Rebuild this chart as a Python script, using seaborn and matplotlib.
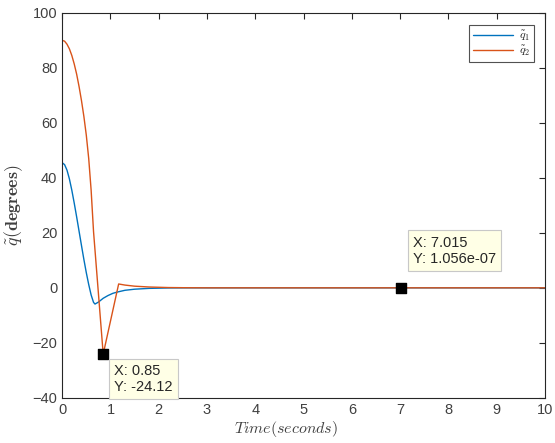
import numpy as np
import pandas as pd
import matplotlib
matplotlib.use("Agg")
import matplotlib.pyplot as plt
import seaborn as sns

# Joint tracking error samples (time in seconds, error in degrees)
t_q1 = [0.0, 0.05, 0.1, 0.15, 0.2, 0.25, 0.3, 0.35, 0.4, 0.45, 0.5, 0.55,
        0.6, 0.65, 0.68, 0.75, 0.85, 0.95, 1.05, 1.15, 1.3, 1.5, 1.8, 2.2, 2.6,
        3.0, 5.0, 7.0, 10.0]
q1 = [45.5, 44.8, 42.8, 39.6, 35.5, 30.8, 25.8, 20.6, 15.4, 10.3, 5.5, 1.2,
      -2.6, -5.3, -5.9, -5.2, -3.8, -2.8, -2.0, -1.5, -0.9, -0.5, -0.2, -0.05, -0.01,
      0.0, 0.0, 0.0, 0.0]

t_q2 = [0.0, 0.05, 0.1, 0.15, 0.2, 0.25, 0.3, 0.35, 0.4, 0.45, 0.5, 0.55,
        0.6, 0.65, 0.85, 1.17, 1.3, 1.5, 1.8, 2.2, 2.6, 3.0, 5.0, 7.015, 10.0]
q2 = [90.0, 89.7, 88.6, 86.9, 84.5, 81.4, 77.7, 73.2, 68.1, 62.3, 55.5, 47.0,
      35.5, 20.4, -24.12, 1.4, 1.0, 0.6, 0.3, 0.1, 0.03, 0.0, 0.0, 1.056e-07, 0.0]

# Data tips: (x, y) of the marked samples
tip_x = [0.85, 7.015]
tip_y = [-24.12, 1.056e-07]
tip_text = ["X: 0.85\nY: -24.12", "X: 7.015\nY: 1.056e-07"]

series_labels = [r"$\tilde{q}_1$", r"$\tilde{q}_2$"]
colors = ["#0072BD", "#D95319"]

df = pd.concat([
    pd.DataFrame({"t": t_q1, "q": q1, "series": series_labels[0]}),
    pd.DataFrame({"t": t_q2, "q": q2, "series": series_labels[1]}),
], ignore_index=True)

sns.set_style("white")
plt.rcParams["font.family"] = ["Liberation Sans", "DejaVu Sans"]
plt.rcParams["mathtext.fontset"] = "cm"

fig = plt.figure(figsize=(5.55, 4.43), dpi=100)
ax = fig.add_axes([0.112, 0.102, 0.870, 0.869])

sns.lineplot(data=df, x="t", y="q", hue="series", palette=colors,
             sort=False, estimator=None, linewidth=1.0, ax=ax, legend=True)

ax.set_xlim(0, 10)
ax.set_ylim(-40, 100)
ax.set_xticks(range(0, 11))
ax.set_yticks(range(-40, 101, 20))

axis_grey = "#262626"
label_grey = "#404040"
for sp in ax.spines.values():
    sp.set_color(axis_grey)
    sp.set_linewidth(0.8)
ax.tick_params(direction="in", top=True, right=True, length=4, width=0.8,
               color=axis_grey, labelcolor=label_grey, labelsize=10.5)

ax.set_xlabel(r"$Time(seconds)$", fontsize=11.5, color=label_grey, labelpad=2)
ax.xaxis.set_label_coords(0.464, -0.055)
ax.set_ylabel(r"$\tilde{q}(\mathbf{degrees})$", fontsize=13, color=label_grey, labelpad=5)

leg = ax.legend(loc="upper right", fontsize=8.5, frameon=True, fancybox=False,
                borderpad=0.3, handlelength=3.4, labelspacing=0.1,
                handletextpad=0.5, borderaxespad=0.0,
                bbox_to_anchor=(0.977, 0.968))
leg.get_frame().set_edgecolor(axis_grey)
leg.get_frame().set_linewidth(0.8)
leg.set_title(None)

# Data tip markers and their labels
ax.scatter(tip_x, tip_y, marker="s", s=55, color="black", zorder=5, clip_on=False)
tip_pos = [(1.08, -27.6), (7.26, 19.0)]
for (tx, ty), txt in zip(tip_pos, tip_text):
    ax.text(tx, ty, txt, ha="left", va="top", fontsize=10.5, color="#262626",
            linespacing=1.2, zorder=6, clip_on=False,
            bbox=dict(boxstyle="square,pad=0.35", fc="#FFFFE6", ec="#C8C8C8", lw=0.8))

fig.savefig("out.png", dpi=100)
